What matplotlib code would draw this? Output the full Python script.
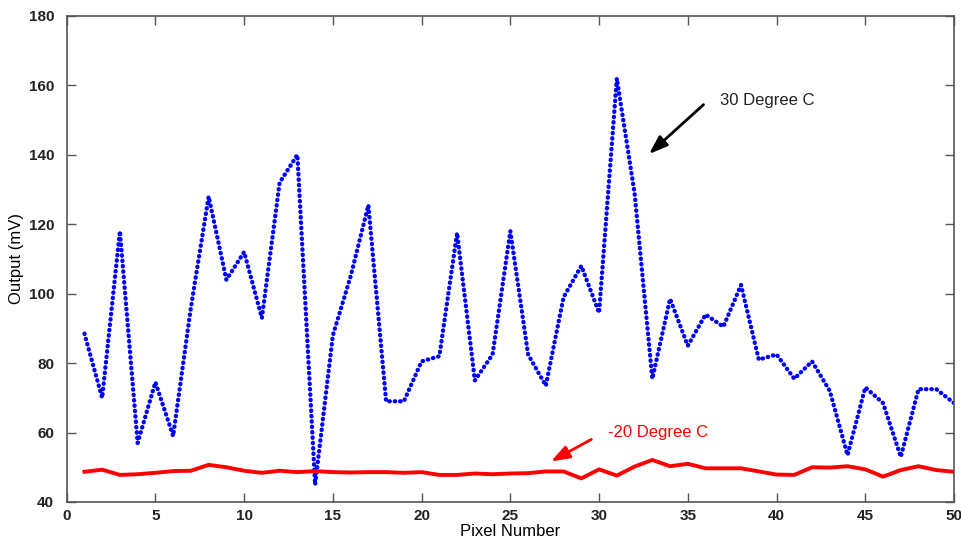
import numpy as np
import matplotlib
matplotlib.use('Agg')
import matplotlib.pyplot as plt

plt.rcParams['font.family'] = ['Liberation Sans', 'DejaVu Sans']

# Data
pixel = np.arange(1, 51)
out_30C = [88.5, 70, 118, 57, 74.5, 59, 96, 128, 104, 112,
           93, 132, 140, 45, 88, 105, 125.5, 69, 69, 80.5,
           82, 117.5, 75, 82.5, 118, 82.5, 73.5, 99, 108, 94.5,
           162, 129, 75.5, 98.5, 85, 94, 90.5, 102.5, 81, 82.5,
           75.5, 80.5, 72, 53.5, 73, 68.5, 53, 72.5, 72.5, 68.5]
out_m20C = [48.7, 49.3, 47.8, 48.0, 48.4, 48.9, 49.0, 50.7, 50.0, 49.0,
            48.4, 49.0, 48.6, 48.9, 48.6, 48.5, 48.6, 48.6, 48.4, 48.6,
            47.8, 47.8, 48.2, 48.0, 48.2, 48.3, 48.8, 48.8, 46.8, 49.4,
            47.6, 50.2, 52.1, 50.3, 51.0, 49.7, 49.7, 49.7, 48.8, 47.9,
            47.8, 50.0, 49.9, 50.3, 49.4, 47.3, 49.2, 50.3, 49.2, 48.7]

x_ticks = np.arange(0, 51, 5)
y_ticks = np.arange(40, 181, 20)

fig = plt.figure(figsize=(9.62, 5.47), dpi=100)
ax = fig.add_axes([0.0693, 0.0823, 0.9224, 0.8885])

# round-capped short dashes -> dotted look like the MATLAB ':' style
ax.plot(pixel, out_30C, color='#0000ff', linestyle=(0, (0.1, 1.15)),
        linewidth=3.1, dash_capstyle='round')
ax.plot(pixel, out_m20C, color='#ff0000', linestyle='-', linewidth=2.8)

ax.set_xlim(0, 50)
ax.set_ylim(40, 180)
ax.set_xticks(x_ticks)
ax.set_yticks(y_ticks)

for s in ax.spines.values():
    s.set_color('#555555')
    s.set_linewidth(1.2)
ax.tick_params(direction='in', length=6.5, width=1.0, color='#555555',
               top=True, right=True, labelsize=11)
ax.tick_params(axis='y', pad=9)
ax.tick_params(axis='x', pad=5)
for lab in ax.get_xticklabels() + ax.get_yticklabels():
    lab.set_fontweight('bold')
    lab.set_color('#222222')

ax.set_xlabel('Pixel Number', fontsize=12, labelpad=1)
ax.set_ylabel('Output (mV)', fontsize=12, labelpad=3)

# annotations
arrow_style = '-|>,head_length=0.7,head_width=0.25'
ax.annotate('', xy=(32.7, 139.7), xytext=(36.0, 155),
            arrowprops=dict(arrowstyle=arrow_style, color='black', lw=2, mutation_scale=16))
ax.text(36.8, 155.6, '30 Degree C', fontsize=12, color='#222222', va='center', ha='left')

ax.annotate('', xy=(27.15, 51.3), xytext=(29.7, 58.4),
            arrowprops=dict(arrowstyle=arrow_style, color='#ff0000', lw=2, mutation_scale=16))
ax.text(30.5, 60.0, '-20 Degree C', fontsize=12, color='#ff0000', va='center', ha='left')

fig.savefig('out.png', dpi=100)
